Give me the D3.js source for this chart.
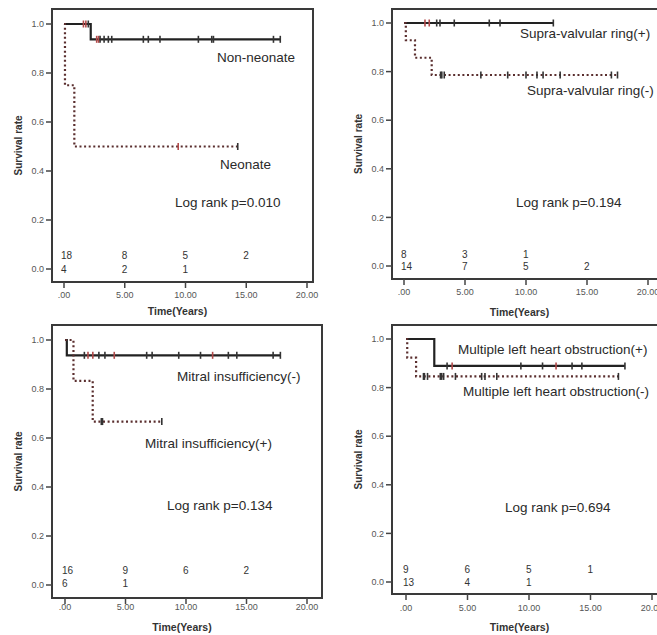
<!DOCTYPE html>
<html>
<head>
<meta charset="utf-8">
<script src="https://cdn.jsdelivr.net/npm/d3@7"></script>
<style>
  body { margin: 0; background: #fff; }
  text { font-family: "Liberation Sans", Arial, sans-serif; }
</style>
</head>
<body>
<div id="chart"></div>
<script>
// axis ticks shared by all four panels
var xTicks = [0, 5, 10, 15, 20];
var xTickLabels = [".00", "5.00", "10.00", "15.00", "20.00"];
var yTicks = [0, 0.2, 0.4, 0.6, 0.8, 1.0];
var yTickLabels = ["0.0", "0.2", "0.4", "0.6", "0.8", "1.0"];
var riskTimes = [0, 5, 10, 15];

// Panel A: neonate vs non-neonate  ([time, survival from that time on])
var nonNeonateSteps = [[0, 1], [2.2, 0.9375]];
var nonNeonateEnd = 17.8;
var nonNeonateCensor = [1.6, 1.8, 2.0, 2.69, 2.85, 2.97, 3.3, 3.65, 3.93, 6.53, 6.94, 7.9, 11.06, 12.16, 12.3, 17.24, 17.8];
var neonateSteps = [[0, 1], [0.08, 0.75], [0.85, 0.5]];
var neonateEnd = 14.3;
var neonateCensor = [9.4, 14.3];
var riskNonNeonate = [18, 8, 5, 2];
var riskNeonate = [4, 2, 1];

// Panel B: supra-valvular ring
var supraPosSteps = [[0, 1]];
var supraPosEnd = 12.24;
var supraPosCensor = [1.72, 2.07, 2.68, 2.95, 4.12, 6.99, 7.87, 12.24];
var supraNegSteps = [[0, 1], [0.15, 0.929], [0.9, 0.857], [2.27, 0.786]];
var supraNegEnd = 17.5;
var supraNegCensor = [3.0, 3.1, 3.3, 6.3, 8.5, 10.0, 10.9, 11.4, 12.8, 17.0, 17.5];
var riskSupraPos = [8, 3, 1];
var riskSupraNeg = [14, 7, 5, 2];

// Panel C: mitral insufficiency
var mitralNegSteps = [[0, 1], [0.15, 0.9375]];
var mitralNegEnd = 17.8;
var mitralNegCensor = [1.6, 1.9, 2.3, 2.8, 3.3, 4.07, 6.75, 7.2, 9.4, 11.2, 12.2, 13.5, 14.2, 17.2, 17.8];
var mitralPosSteps = [[0, 1], [0.7, 0.833], [2.29, 0.667]];
var mitralPosEnd = 8.0;
var mitralPosCensor = [3.0, 3.05, 3.1, 8.0];
var riskMitralNeg = [16, 9, 6, 2];
var riskMitralPos = [6, 1];

// Panel D: multiple left heart obstruction
var multiPosSteps = [[0, 1], [2.3, 0.889]];
var multiPosEnd = 17.8;
var multiPosCensor = [3.34, 3.75, 9.34, 11.1, 12.2, 13.5, 14.3, 17.8];
var multiNegSteps = [[0, 1], [0.1, 0.923], [0.82, 0.846]];
var multiNegEnd = 17.27;
var multiNegCensor = [1.42, 1.5, 1.75, 2.79, 2.9, 3.06, 4.02, 6.15, 6.42, 7.38, 17.27];
var riskMultiPos = [9, 6, 5, 1];
var riskMultiNeg = [13, 4, 1];

var W = 657, H = 635;
var svg = d3.select("#chart").append("svg")
    .attr("width", W)
    .attr("height", H);

var panels = [
  { box: [52, 9, 313, 282], x0: 64, x20: 307, y0: 269, y1: 24, tickY: 295, titleY: 311, ytitleX: 18,
    riskY: [255, 269],
    curves: [
      { steps: nonNeonateSteps, end: nonNeonateEnd, censor: nonNeonateCensor, dotted: false, red: [1.6, 1.8, 2.69, 2.85] },
      { steps: neonateSteps, end: neonateEnd, censor: neonateCensor, dotted: true, red: [9.4] }
    ],
    risk: [riskNonNeonate, riskNeonate],
    labels: [["Non-neonate", 217, 57], ["Neonate", 220, 164], ["Log rank p=0.010", 175, 202]] },
  { box: [392, 9, 700, 279], x0: 404, x20: 648, y0: 266, y1: 23, tickY: 292, titleY: 312, ytitleX: 358,
    riskY: [254, 266],
    curves: [
      { steps: supraPosSteps, end: supraPosEnd, censor: supraPosCensor, dotted: false, red: [1.72, 2.07] },
      { steps: supraNegSteps, end: supraNegEnd, censor: supraNegCensor, dotted: true, red: [] }
    ],
    risk: [riskSupraPos, riskSupraNeg],
    labels: [["Supra-valvular ring(+)", 520, 33], ["Supra-valvular ring(-)", 527, 90], ["Log rank p=0.194", 516, 202]] },
  { box: [52, 325, 322, 598], x0: 65, x20: 307, y0: 585, y1: 340, tickY: 607, titleY: 627, ytitleX: 18,
    riskY: [570, 583],
    curves: [
      { steps: mitralNegSteps, end: mitralNegEnd, censor: mitralNegCensor, dotted: false, red: [1.9, 2.3, 4.07, 12.2] },
      { steps: mitralPosSteps, end: mitralPosEnd, censor: mitralPosCensor, dotted: true, red: [] }
    ],
    risk: [riskMitralNeg, riskMitralPos],
    labels: [["Mitral insufficiency(-)", 177, 376], ["Mitral insufficiency(+)", 145, 443], ["Log rank p=0.134", 167, 505]] },
  { box: [392, 325, 700, 594], x0: 406, x20: 652, y0: 582, y1: 339, tickY: 608, titleY: 627, ytitleX: 358,
    riskY: [569, 582],
    curves: [
      { steps: multiPosSteps, end: multiPosEnd, censor: multiPosCensor, dotted: false, red: [3.75, 12.2] },
      { steps: multiNegSteps, end: multiNegEnd, censor: multiNegCensor, dotted: true, red: [] }
    ],
    risk: [riskMultiPos, riskMultiNeg],
    labels: [["Multiple left heart obstruction(+)", 458, 349], ["Multiple left heart obstruction(-)", 463, 391], ["Log rank p=0.694", 505, 507]] }
];

function survivalAt(steps, t) {
  var s = steps[0][1];
  steps.forEach(function (d) { if (d[0] <= t) s = d[1]; });
  return s;
}

function drawPanel(p) {
  var g = svg.append("g");
  var x = d3.scaleLinear().domain([0, 20]).range([p.x0, p.x20]);
  var y = d3.scaleLinear().domain([0, 1]).range([p.y0, p.y1]);
  var bx = p.box;

  // frame
  g.append("rect")
      .attr("x", bx[0]).attr("y", bx[1])
      .attr("width", bx[2] - bx[0]).attr("height", bx[3] - bx[1])
      .attr("fill", "none")
      .attr("stroke", "#3a3a3a")
      .attr("stroke-width", 2);

  // y ticks
  yTicks.forEach(function (v, i) {
    g.append("line")
        .attr("x1", bx[0] - 6).attr("x2", bx[0])
        .attr("y1", y(v)).attr("y2", y(v))
        .attr("stroke", "#444").attr("stroke-width", 1.5);
    g.append("text")
        .attr("x", bx[0] - 8).attr("y", y(v))
        .attr("dy", "0.35em")
        .attr("text-anchor", "end")
        .attr("font-size", 9)
        .attr("fill", "#555")
        .text(yTickLabels[i]);
  });

  // x ticks (the 20.00 label of the right panels runs off the page, as in the source)
  xTicks.forEach(function (v, i) {
    g.append("line")
        .attr("x1", x(v)).attr("x2", x(v))
        .attr("y1", bx[3]).attr("y2", bx[3] + 6)
        .attr("stroke", "#444").attr("stroke-width", 1.5);
    g.append("text")
        .attr("x", x(v)).attr("y", p.tickY)
        .attr("dy", "0.35em")
        .attr("text-anchor", "middle")
        .attr("font-size", 9)
        .attr("fill", "#555")
        .text(xTickLabels[i]);
  });

  // axis titles
  g.append("text")
      .attr("x", (bx[0] + Math.min(bx[2], 657)) / 2 - 5)
      .attr("y", p.titleY)
      .attr("dy", "0.35em")
      .attr("text-anchor", "middle")
      .attr("font-size", 10.5)
      .attr("font-weight", "bold")
      .attr("fill", "#333")
      .text("Time(Years)");
  g.append("text")
      .attr("transform", "translate(" + p.ytitleX + "," + (bx[1] + bx[3]) / 2 + ") rotate(-90)")
      .attr("dy", "0.35em")
      .attr("text-anchor", "middle")
      .attr("font-size", 10)
      .attr("font-weight", "bold")
      .attr("fill", "#333")
      .text("Survival rate");

  // survival curves
  var line = d3.line()
      .x(function (d) { return x(d[0]); })
      .y(function (d) { return y(d[1]); })
      .curve(d3.curveStepAfter);

  p.curves.forEach(function (c) {
    var pts = c.steps.slice();
    pts.push([c.end, c.steps[c.steps.length - 1][1]]);
    g.append("path")
        .datum(pts)
        .attr("d", line)
        .attr("fill", "none")
        .attr("stroke", c.dotted ? "#5a2e2e" : "#222")
        .attr("stroke-width", 2.2)
        .attr("stroke-dasharray", c.dotted ? "2,2.6" : null);

    g.selectAll(null)
        .data(c.censor)
        .enter().append("line")
        .attr("x1", function (t) { return x(t); })
        .attr("x2", function (t) { return x(t); })
        .attr("y1", function (t) { return y(survivalAt(c.steps, t)) - 3.5; })
        .attr("y2", function (t) { return y(survivalAt(c.steps, t)) + 3.5; })
        .attr("stroke", function (t) { return c.red.indexOf(t) >= 0 ? "#b24a4a" : "#333"; })
        .attr("stroke-width", 1.6);
  });

  // numbers at risk
  p.risk.forEach(function (row, r) {
    row.forEach(function (n, i) {
      g.append("text")
          .attr("x", x(riskTimes[i]) - 3)
          .attr("y", p.riskY[r])
          .attr("dy", "0.35em")
          .attr("font-size", 10)
          .attr("fill", "#333")
          .text(n);
    });
  });

  // annotations
  p.labels.forEach(function (l) {
    g.append("text")
        .attr("x", l[1]).attr("y", l[2])
        .attr("dy", "0.35em")
        .attr("font-size", 13.5)
        .attr("fill", "#2a2a2a")
        .text(l[0]);
  });
}

panels.forEach(drawPanel);
</script>
</body>
</html>
